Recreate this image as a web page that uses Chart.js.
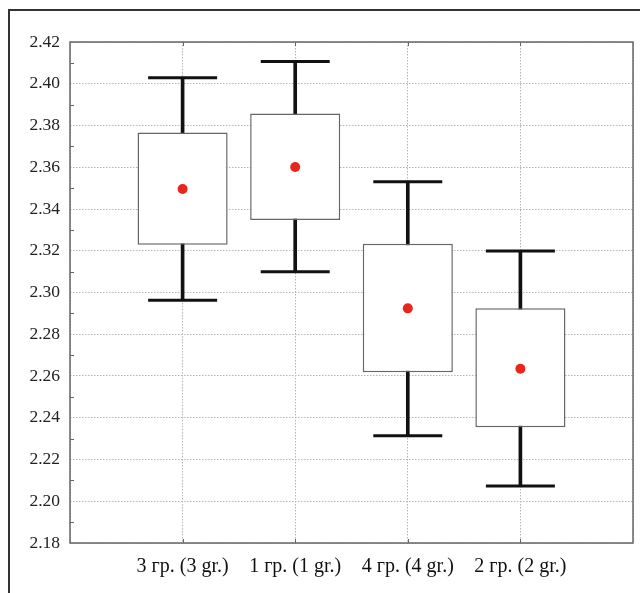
<!DOCTYPE html>
<html><head><meta charset="utf-8">
<script src="https://cdn.jsdelivr.net/npm/chart.js@4.4.0/dist/chart.umd.min.js"></script>
<style>html,body{margin:0;padding:0;background:#fff}#wrap{width:640px;height:593px;position:relative}</style>
</head><body><div id="wrap"><canvas id="c"></canvas></div>
<script>
const categories = ['3 гр. (3 gr.)', '1 гр. (1 gr.)', '4 гр. (4 gr.)', '2 гр. (2 gr.)'];
const whiskerLow  = [2.2963, 2.3100, 2.2314, 2.2073];
const boxLow      = [2.3229, 2.3347, 2.2618, 2.2354];
const means       = [2.3496, 2.3601, 2.2924, 2.2635];
const boxHigh     = [2.3767, 2.3858, 2.3234, 2.2924];
const whiskerHigh = [2.4029, 2.4106, 2.3531, 2.3199];
const yMin = 2.18, yMax = 2.42, yStep = 0.02;

const pad = arr => [null, ...arr, null];
const labels = ['', ...categories, ''];
const fontY = {family: '"Liberation Serif", "Times New Roman", serif', size: 17.5};
const fontX = {family: '"Liberation Serif", "Times New Roman", serif', size: 20};

const framePlugin = {
  id: 'frame',
  beforeDraw(chart) {
    const ctx = chart.ctx;
    ctx.save();
    ctx.fillStyle = '#fff';
    ctx.fillRect(0, 0, chart.width, chart.height);
    ctx.strokeStyle = '#333';
    ctx.lineWidth = 2;
    ctx.beginPath();
    ctx.moveTo(9, chart.height);
    ctx.lineTo(9, 10);
    ctx.lineTo(chart.width, 10);
    ctx.stroke();
    ctx.restore();
  },
  afterDatasetsDraw(chart) {
    const {ctx, chartArea: a} = chart;
    const y = chart.scales.y;
    const x = chart.scales.x;
    ctx.save();
    ctx.strokeStyle = '#666';
    ctx.lineWidth = 1.5;
    ctx.strokeRect(a.left, a.top, a.right - a.left, a.bottom - a.top);
    ctx.lineWidth = 1;
    ctx.beginPath();
    for (let v = yMin + yStep / 2; v < yMax; v += yStep) {
      const py = Math.round(y.getPixelForValue(v)) + 0.5;
      ctx.moveTo(a.left, py); ctx.lineTo(a.left + 4, py);
    }
    for (let i = 1; i <= categories.length; i++) {
      const px = Math.round(x.getPixelForValue(i)) + 0.5;
      ctx.moveTo(px, a.top); ctx.lineTo(px, a.top + 4);
      ctx.moveTo(px, a.bottom); ctx.lineTo(px, a.bottom - 4);
    }
    ctx.stroke();
    ctx.restore();
  }
};

new Chart(document.getElementById('c'), {
  type: 'bar',
  data: {
    labels: labels,
    datasets: [
      {
        type: 'line', label: 'mean', data: pad(means), showLine: false,
        pointStyle: 'circle', pointRadius: 5, pointBackgroundColor: '#e8261c',
        pointBorderWidth: 0, borderColor: '#e8261c', order: 0
      },
      {
        type: 'line', label: 'capHigh', data: pad(whiskerHigh), showLine: false,
        pointStyle: 'line', pointRadius: 34.5, pointBorderWidth: 3,
        borderColor: '#111', pointBorderColor: '#111', order: 1
      },
      {
        type: 'line', label: 'capLow', data: pad(whiskerLow), showLine: false,
        pointStyle: 'line', pointRadius: 34.5, pointBorderWidth: 3,
        borderColor: '#111', pointBorderColor: '#111', order: 1
      },
      {
        label: 'box', data: pad(boxLow.map((v, i) => [v, boxHigh[i]])),
        backgroundColor: '#fff', borderColor: '#666', borderWidth: 1.5,
        borderSkipped: false, grouped: false,
        categoryPercentage: 1, barPercentage: 0.8, order: 2
      },
      {
        label: 'stem', data: pad(whiskerLow.map((v, i) => [v, whiskerHigh[i]])),
        backgroundColor: '#111', borderWidth: 0, grouped: false,
        barThickness: 3, order: 3
      }
    ]
  },
  options: {
    responsive: true, maintainAspectRatio: false, animation: false, events: [],
    layout: {autoPadding: false, padding: {left: 0, right: 7, top: 42, bottom: 0}},
    plugins: {legend: {display: false}, tooltip: {enabled: false}},
    scales: {
      x: {
        offset: false,
        grid: {color: '#b5b5b5', drawTicks: false, lineWidth: 1, offset: false},
        border: {display: false, dash: [1.5, 1.5]},
        ticks: {font: fontX, color: '#111', padding: 12, maxRotation: 0, autoSkip: false},
        afterFit(s) { s.height = 50; s.paddingLeft = 0; s.paddingRight = 0; }
      },
      y: {
        min: yMin, max: yMax,
        grid: {color: '#b5b5b5', drawTicks: false, lineWidth: 1},
        border: {display: false, dash: [1.5, 1.5]},
        ticks: {stepSize: yStep, font: fontY, color: '#222', padding: 10,
          callback: v => Number(v).toFixed(2)},
        afterFit(s) { s.width = 70; }
      }
    }
  },
  plugins: [framePlugin]
});
</script></body></html>
